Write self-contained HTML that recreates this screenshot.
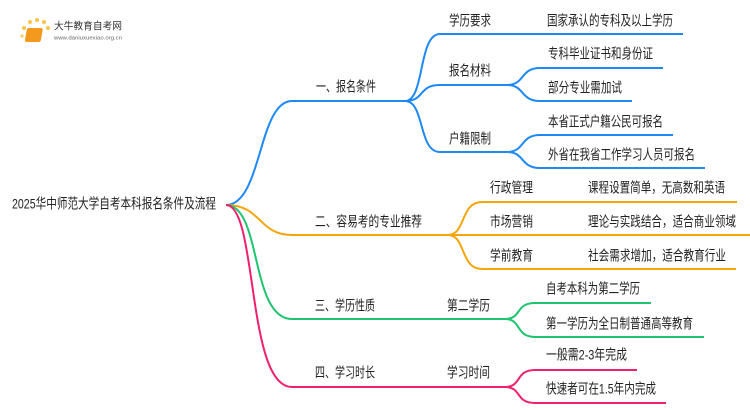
<!DOCTYPE html>
<html><head><meta charset="utf-8"><style>
html,body{margin:0;padding:0;background:#fff;}
svg{display:block}
text{font-family:"Liberation Sans","Noto Sans CJK SC",sans-serif;font-size:14px;fill:#222;dominant-baseline:middle}
path{fill:none;stroke-width:2}
</style></head><body>
<svg width="750" height="410" viewBox="0 0 750 410" xmlns="http://www.w3.org/2000/svg">
<g>
<circle cx="24" cy="28" r="2" fill="#f7c54a"/><circle cx="30" cy="22" r="2" fill="#f7c54a"/><circle cx="37" cy="20" r="2" fill="#f7c54a"/><circle cx="44" cy="22" r="2" fill="#f7c54a"/><circle cx="48" cy="28" r="2" fill="#f7c54a"/><circle cx="22" cy="36" r="1.5" fill="#f7c54a"/>
<rect x="32" y="28" width="16" height="14" rx="2" fill="#f39a1e" transform="skewX(-10)"/>
<text x="54" y="27" style="font-size:10px;fill:#333" textLength="68" lengthAdjust="spacingAndGlyphs">大牛教育自考网</text>
<text x="54" y="38" style="font-size:5px;fill:#666" textLength="68" lengthAdjust="spacingAndGlyphs">www.daniuxuexiao.org.cn</text>
</g>
<text x="12" y="205" textLength="204" lengthAdjust="spacingAndGlyphs">2025华中师范大学自考本科报名条件及流程</text>
<!-- blue -->
<path stroke="#1e88f5" d="M226 205 C262 205 258 101 292 101 L405 101"/>
<path stroke="#1e88f5" d="M405 101 C425 101 418 34 440 34 L683 34 M405 101 C425 101 418 85 440 85 L507 85 M405 101 C425 101 418 152 440 152 L507 152"/>
<path stroke="#1e88f5" d="M507 85 C525 85 520 68 540 68 L663 68 M507 85 C525 85 520 101 540 101 L632 101 M507 152 C525 152 520 135 540 135 L673 135 M507 152 C525 152 520 168 540 168 L705 168"/>
<text x="316" y="88" textLength="60" lengthAdjust="spacingAndGlyphs">一、报名条件</text>
<text x="449" y="22" textLength="42" lengthAdjust="spacingAndGlyphs">学历要求</text><text x="547" y="22" textLength="126" lengthAdjust="spacingAndGlyphs">国家承认的专科及以上学历</text>
<text x="449" y="72" textLength="42" lengthAdjust="spacingAndGlyphs">报名材料</text><text x="548" y="55" textLength="105" lengthAdjust="spacingAndGlyphs">专科毕业证书和身份证</text><text x="548" y="89" textLength="74" lengthAdjust="spacingAndGlyphs">部分专业需加试</text>
<text x="449" y="140" textLength="42" lengthAdjust="spacingAndGlyphs">户籍限制</text><text x="548" y="123" textLength="115" lengthAdjust="spacingAndGlyphs">本省正式户籍公民可报名</text><text x="548" y="156" textLength="147" lengthAdjust="spacingAndGlyphs">外省在我省工作学习人员可报名</text>
<!-- orange -->
<path stroke="#f5a50a" d="M226 205 C262 205 258 235 292 235 L448 235 M448 235 C466 235 460 202 482 202 L737 202 M448 235 L750 235 M448 235 C466 235 460 269 482 269 L736 269"/>
<text x="315" y="223" textLength="107" lengthAdjust="spacingAndGlyphs">二、容易考的专业推荐</text>
<text x="490" y="189" textLength="43" lengthAdjust="spacingAndGlyphs">行政管理</text><text x="588" y="189" textLength="137" lengthAdjust="spacingAndGlyphs">课程设置简单，无高数和英语</text>
<text x="490" y="223" textLength="43" lengthAdjust="spacingAndGlyphs">市场营销</text><text x="588" y="223" textLength="148" lengthAdjust="spacingAndGlyphs">理论与实践结合，适合商业领域</text>
<text x="490" y="257" textLength="43" lengthAdjust="spacingAndGlyphs">学前教育</text><text x="588" y="257" textLength="138" lengthAdjust="spacingAndGlyphs">社会需求增加，适合教育行业</text>
<!-- green -->
<path stroke="#1ec46e" d="M226 205 C262 205 250 319 292 319 L505 319 M505 319 C522 319 515 303 535 303 L651 303 M505 319 C522 319 515 337 535 337 L704 337"/>
<text x="315" y="307" textLength="60" lengthAdjust="spacingAndGlyphs">三、学历性质</text><text x="447" y="307" textLength="43" lengthAdjust="spacingAndGlyphs">第二学历</text>
<text x="546" y="290" textLength="94" lengthAdjust="spacingAndGlyphs">自考本科为第二学历</text><text x="546" y="325" textLength="147" lengthAdjust="spacingAndGlyphs">第一学历为全日制普通高等教育</text>
<!-- pink -->
<path stroke="#f0206e" d="M226 205 C258 205 246 387 292 387 L505 387 M505 387 C522 387 515 370 535 370 L637 370 M505 387 C522 387 515 403 535 403 L666 403"/>
<text x="315" y="374" textLength="60" lengthAdjust="spacingAndGlyphs">四、学习时长</text><text x="447" y="374" textLength="43" lengthAdjust="spacingAndGlyphs">学习时间</text>
<text x="546" y="356" textLength="81" lengthAdjust="spacingAndGlyphs">一般需2-3年完成</text><text x="546" y="390" textLength="110" lengthAdjust="spacingAndGlyphs">快速者可在1.5年内完成</text>
</svg>
</body></html>
